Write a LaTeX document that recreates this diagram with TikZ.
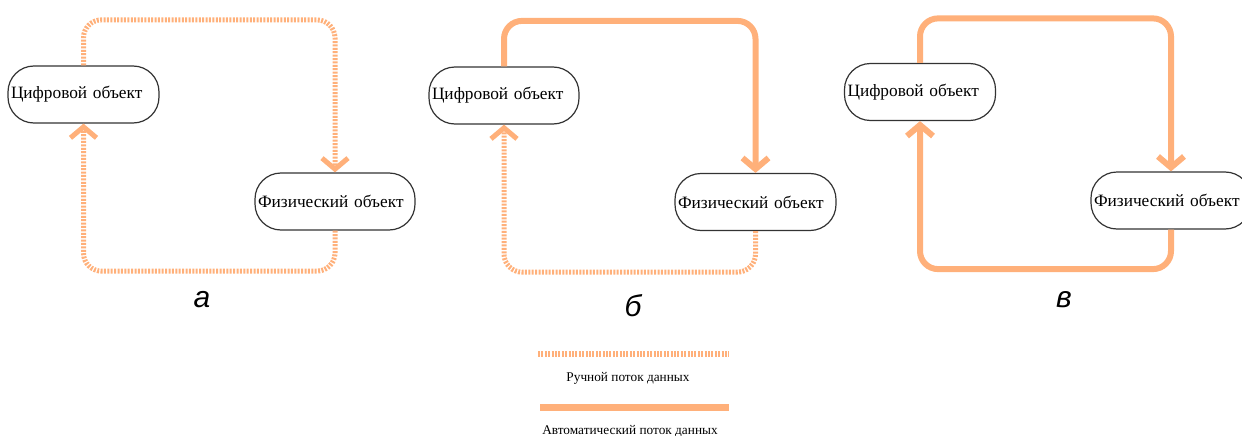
\documentclass[tikz,border=0pt]{standalone}
\usepackage{fontspec}
\setmainfont{Liberation Serif}
\newfontfamily\labelfont{Liberation Sans}
\usetikzlibrary{arrows.meta}
\definecolor{flow}{RGB}{255,176,122}

\begin{document}
\begin{tikzpicture}[x=1pt,y=-1pt,
	obj/.style={draw=black!80, line width=1.2pt, rounded corners=26pt, minimum height=57pt,
		inner xsep=3pt, inner ysep=0pt, align=left, font=\fontsize{17.3}{19}\selectfont},
	manual/.style={draw=flow, line width=5pt, dash pattern=on 2pt off 1.4pt, rounded corners=18pt},
	automatic/.style={draw=flow, line width=6pt, rounded corners=18pt},
	flowtip/.style={-{Straight Barb[length=11pt,width=26pt]}},
	panel/.style={font=\labelfont\itshape\fontsize{30}{32}\selectfont},
	legend/.style={font=\fontsize{13.3}{15}\selectfont}]
	%%%%% START %%%%%
	\useasboundingbox (0, 0) rectangle (1242, 436);
	
	% a
	\node[obj, text width=145pt] (dA) at (83.5, 94.5) {Цифровой объект};
	\node[obj, text width=154pt] (pA) at (335, 201.5) {Физический объект};
	\draw[manual, flowtip] (dA.north) -- ++(0, -45.5) -| (pA.north);
	\draw[manual, flowtip] (pA.south) -- ++(0, 40.5) -| (dA.south);
	\node[panel] (la) at (202, 300) {а};
	
	% b
	\node[obj, text width=144pt] (dB) at (504, 95.5) {Цифровой объект};
	\node[obj, text width=155pt] (pB) at (755.5, 202) {Физический объект};
	\draw[automatic, flowtip] (dB.north) -- ++(0, -45.5) -| (pB.north);
	\draw[manual, flowtip] (pB.south) -- ++(0, 41) -| (dB.south);
	\node[panel] (lb) at (633, 306) {б};
	
	% c
	\node[obj, text width=145pt] (dC) at (920, 92) {Цифровой объект};
	\node[obj, text width=154pt] (pC) at (1171, 200.5) {Физический объект};
	\draw[automatic, flowtip] (dC.north) -- ++(0, -44.5) -| (pC.north);
	\draw[automatic, flowtip] (pC.south) -- ++(0, 39.5) -| (dC.south);
	\node[panel] (lc) at (1064, 300) {в};
	
	% legend
	\draw[manual, line width=6pt] (538, 354) -- (729, 354);
	\node[legend] (lm) at (628, 378) {Ручной поток данных};
	\draw[automatic, line width=7pt] (540, 407) -- (729, 407);
	\node[legend] (lt) at (630, 431) {Автоматический поток данных};
	
	%%%%% END %%%%%
\end{tikzpicture}
\end{document}
